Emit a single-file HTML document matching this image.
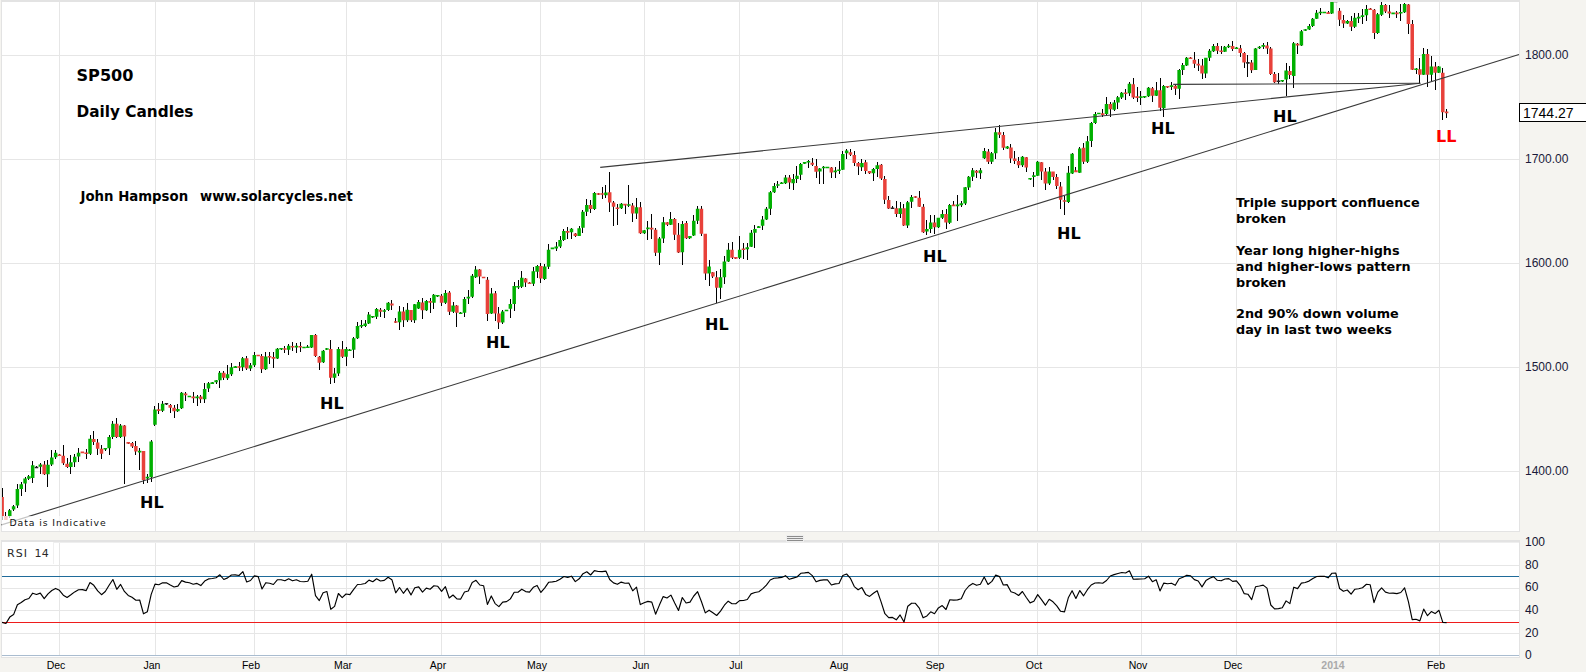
<!DOCTYPE html>
<html><head><meta charset="utf-8"><title>SP500 Daily Candles</title>
<style>html,body{margin:0;padding:0;}body{width:1586px;height:672px;position:relative;overflow:hidden;background:#f5f4f0;}svg{position:absolute;left:0;top:0;}</style>
</head><body>
<svg width="1586" height="672" viewBox="0 0 1586 672" shape-rendering="crispEdges">
<rect x="0" y="0" width="1586" height="672" fill="#f5f4f0"/>
<rect x="1" y="0" width="1519" height="532" fill="#e3e3e3"/>
<rect x="2" y="2" width="1517" height="529" fill="#ffffff"/>
<rect x="1" y="540" width="1519" height="118" fill="#e3e3e3"/>
<rect x="2" y="542" width="1517" height="115" fill="#ffffff"/>
<rect x="54" y="542" width="1465" height="1" fill="#eeeeee"/>
<path d="M59.5 2V531 M59.5 543V655 M155.5 2V531 M155.5 543V655 M254.5 2V531 M254.5 543V655 M346.5 2V531 M346.5 543V655 M441.5 2V531 M441.5 543V655 M540.5 2V531 M540.5 543V655 M644.5 2V531 M644.5 543V655 M739.5 2V531 M739.5 543V655 M842.5 2V531 M842.5 543V655 M938.5 2V531 M938.5 543V655 M1037.5 2V531 M1037.5 543V655 M1141.5 2V531 M1141.5 543V655 M1236.5 2V531 M1236.5 543V655 M1336.5 2V531 M1336.5 543V655 M1439.5 2V531 M1439.5 543V655 M2 55.5H1519 M2 159.5H1519 M2 263.5H1519 M2 367.5H1519 M2 471.5H1519 M2 565.5H1519 M2 588.5H1519 M2 610.5H1519 M2 633.5H1519" stroke="#e6e6e6" stroke-width="1" fill="none"/>
<path d="M2 576.5H1519" stroke="#1f6b9a" stroke-width="1"/>
<path d="M2 622.5H1519" stroke="#ee1c1c" stroke-width="1"/>
<path d="M2 655.5H1519" stroke="#a9bccf" stroke-width="1"/>
<defs><clipPath id="pc"><rect x="2" y="2" width="1517" height="529"/></clipPath></defs>
<g clip-path="url(#pc)">
<path d="M2.5 488V520 M5.5 512V520 M9.5 509V518 M13.5 505V511 M17.5 484V508 M21.5 482V496 M25.5 477V492 M28.5 475V480 M32.5 461V483 M36.5 466V468 M40.5 463V474 M44.5 461V475 M47.5 460V487 M51.5 450V466 M55.5 450V459 M59.5 454V456 M63.5 445V465 M67.5 458V468 M70.5 455V474 M74.5 454V467 M78.5 448V462 M82.5 452V453 M86.5 449V459 M90.5 435V455 M93.5 431V445 M97.5 439V455 M101.5 445V459 M105.5 448V451 M109.5 435V455 M112.5 421V439 M116.5 418V438 M120.5 424V438 M124.5 425V484 M128.5 442V444 M132.5 442V448 M135.5 441V455 M139.5 448V470 M143.5 451V484 M147.5 474V483 M151.5 440V482 M154.5 406V426 M158.5 403V414 M162.5 401V412 M166.5 403V405 M170.5 404V413 M174.5 405V418 M177.5 404V412 M181.5 392V409 M185.5 392V401 M189.5 396V397 M193.5 392V403 M197.5 395V406 M200.5 395V403 M204.5 383V403 M208.5 382V392 M212.5 382V384 M216.5 380V384 M219.5 371V388 M223.5 371V380 M227.5 365V380 M231.5 363V376 M235.5 366V368 M239.5 362V371 M242.5 357V371 M246.5 356V370 M250.5 363V371 M254.5 352V367 M258.5 355V356 M261.5 354V373 M265.5 352V370 M269.5 352V364 M273.5 352V368 M277.5 348V359 M281.5 348V350 M284.5 346V353 M288.5 344V355 M292.5 342V351 M296.5 343V353 M300.5 342V352 M304.5 347V348 M307.5 345V348 M311.5 335V348 M315.5 334V357 M319.5 356V370 M323.5 350V363 M326.5 348V350 M330.5 340V384 M334.5 368V383 M338.5 347V376 M342.5 341V358 M346.5 347V366 M349.5 349V351 M353.5 337V358 M357.5 322V339 M361.5 320V328 M365.5 320V327 M368.5 312V324 M372.5 316V318 M376.5 308V319 M380.5 308V317 M384.5 309V318 M388.5 302V311 M391.5 300V310 M395.5 318V323 M399.5 306V330 M403.5 307V327 M407.5 303V322 M411.5 310V322 M414.5 304V323 M418.5 300V309 M422.5 298V319 M426.5 300V311 M430.5 298V313 M433.5 294V309 M437.5 295V297 M441.5 294V306 M445.5 290V304 M449.5 291V315 M453.5 302V313 M456.5 305V327 M460.5 312V314 M464.5 297V317 M468.5 290V304 M472.5 274V298 M475.5 266V278 M479.5 269V284 M483.5 277V278 M487.5 277V321 M491.5 288V314 M495.5 291V321 M498.5 307V329 M502.5 310V324 M506.5 310V311 M510.5 299V318 M514.5 282V311 M518.5 280V289 M521.5 271V288 M525.5 278V287 M529.5 282V284 M533.5 267V286 M537.5 265V278 M540.5 263V283 M544.5 264V280 M548.5 244V269 M552.5 248V249 M556.5 242V251 M560.5 236V248 M563.5 229V241 M567.5 227V239 M571.5 228V239 M575.5 233V237 M579.5 226V236 M582.5 210V233 M586.5 199V216 M590.5 200V213 M594.5 192V210 M598.5 193V195 M602.5 187V199 M605.5 185V198 M609.5 172V212 M613.5 201V226 M617.5 204V225 M621.5 203V209 M625.5 204V214 M628.5 185V207 M632.5 203V222 M636.5 198V219 M640.5 202V234 M644.5 230V234 M647.5 221V240 M651.5 214V239 M655.5 228V256 M659.5 237V265 M663.5 217V243 M667.5 222V226 M670.5 212V225 M674.5 218V240 M678.5 223V253 M682.5 221V265 M686.5 221V239 M689.5 236V239 M693.5 215V236 M697.5 206V224 M701.5 206V236 M705.5 234V280 M709.5 260V286 M712.5 272V278 M716.5 271V303 M720.5 269V299 M724.5 256V284 M728.5 243V262 M732.5 242V259 M735.5 257V259 M739.5 236V259 M743.5 243V259 M747.5 243V260 M751.5 230V247 M754.5 225V248 M758.5 226V228 M762.5 216V230 M766.5 207V220 M770.5 191V215 M774.5 183V193 M777.5 181V188 M781.5 182V184 M785.5 175V184 M789.5 175V189 M793.5 174V190 M796.5 166V183 M800.5 163V180 M804.5 162V164 M808.5 160V168 M812.5 158V166 M816.5 159V178 M819.5 168V184 M823.5 166V184 M827.5 167V168 M831.5 167V178 M835.5 167V178 M839.5 161V174 M842.5 151V170 M846.5 149V159 M850.5 149V156 M854.5 151V166 M858.5 162V175 M861.5 159V171 M865.5 160V174 M869.5 171V174 M873.5 168V181 M877.5 162V177 M881.5 164V180 M884.5 176V204 M888.5 196V209 M892.5 206V209 M896.5 201V217 M900.5 202V218 M903.5 204V226 M907.5 201V228 M911.5 195V208 M915.5 196V198 M919.5 191V207 M923.5 204V233 M926.5 220V235 M930.5 215V233 M934.5 215V234 M938.5 218V228 M942.5 210V219 M946.5 209V229 M949.5 204V224 M953.5 201V206 M957.5 195V221 M961.5 201V207 M965.5 187V205 M968.5 176V190 M972.5 168V181 M976.5 170V178 M980.5 168V179 M984.5 148V159 M988.5 149V164 M991.5 152V164 M995.5 128V159 M999.5 125V138 M1003.5 132V150 M1007.5 146V149 M1010.5 144V163 M1014.5 151V164 M1018.5 157V168 M1022.5 156V167 M1026.5 157V172 M1030.5 178V180 M1033.5 172V187 M1037.5 161V176 M1041.5 162V180 M1045.5 168V190 M1049.5 167V185 M1053.5 172V180 M1056.5 174V189 M1060.5 182V209 M1064.5 196V215 M1068.5 166V203 M1072.5 153V174 M1075.5 167V172 M1079.5 147V173 M1083.5 143V164 M1087.5 136V163 M1091.5 122V147 M1095.5 112V124 M1098.5 113V114 M1102.5 109V117 M1106.5 97V115 M1110.5 102V117 M1114.5 100V111 M1117.5 96V109 M1121.5 92V99 M1125.5 89V100 M1129.5 82V96 M1133.5 78V99 M1137.5 87V102 M1140.5 91V105 M1144.5 96V98 M1148.5 87V97 M1152.5 87V102 M1156.5 82V96 M1160.5 78V111 M1163.5 85V117 M1167.5 86V88 M1171.5 82V90 M1175.5 84V95 M1179.5 69V99 M1182.5 63V75 M1186.5 57V66 M1190.5 57V59 M1194.5 52V68 M1198.5 59V71 M1202.5 59V79 M1205.5 58V78 M1209.5 49V61 M1213.5 44V52 M1217.5 43V54 M1221.5 46V54 M1224.5 46V52 M1228.5 44V48 M1232.5 41V51 M1236.5 47V49 M1240.5 45V57 M1244.5 52V68 M1247.5 55V77 M1251.5 60V73 M1255.5 48V70 M1259.5 46V49 M1263.5 43V49 M1267.5 42V54 M1270.5 47V75 M1274.5 72V83 M1278.5 73V84 M1282.5 80V82 M1286.5 63V96 M1289.5 66V79 M1293.5 42V88 M1297.5 43V54 M1301.5 30V46 M1305.5 29V31 M1309.5 24V30 M1312.5 18V27 M1316.5 10V19 M1320.5 8V15 M1324.5 12V13 M1328.5 11V14 M1331.5 1V14 M1335.5 1V2 M1339.5 8V26 M1343.5 15V28 M1347.5 20V24 M1351.5 16V31 M1354.5 13V28 M1358.5 13V23 M1362.5 9V24 M1366.5 5V21 M1370.5 8V10 M1374.5 9V39 M1377.5 13V34 M1381.5 2V16 M1385.5 4V13 M1389.5 5V18 M1393.5 13V14 M1396.5 11V18 M1400.5 4V21 M1404.5 3V13 M1408.5 4V34 M1412.5 20V70 M1416.5 68V74 M1419.5 58V83 M1423.5 48V75 M1427.5 49V87 M1431.5 56V81 M1435.5 62V90 M1438.5 66V73 M1442.5 68V120 M1446.5 109V118" stroke="#000" stroke-width="1" fill="none"/>
<g shape-rendering="geometricPrecision">
<path d="M8.01 510.30h3.5v6.00h-3.5z M11.83 506.30h3.5v3.30h-3.5z M15.65 488.90h3.5v16.70h-3.5z M19.48 484.20h3.5v4.70h-3.5z M23.30 478.60h3.5v4.90h-3.5z M27.12 476.20h3.5v2.60h-3.5z M30.94 465.20h3.5v12.70h-3.5z M38.58 464.50h3.5v2.30h-3.5z M46.23 464.80h3.5v9.40h-3.5z M50.05 457.40h3.5v7.10h-3.5z M53.87 452.79h3.5v4.46h-3.5z M69.15 462.16h3.5v4.76h-3.5z M72.98 456.80h3.5v5.35h-3.5z M76.80 452.79h3.5v3.72h-3.5z M88.26 438.66h3.5v15.17h-3.5z M103.55 447.97h3.5v1.60h-3.5z M107.37 436.88h3.5v11.45h-3.5z M111.19 423.79h3.5v13.09h-3.5z M118.83 425.58h3.5v11.30h-3.5z M137.94 450.81h3.5v1.60h-3.5z M145.58 476.79h3.5v1.79h-3.5z M149.40 441.61h3.5v35.71h-3.5z M153.22 409.46h3.5v15.18h-3.5z M160.87 403.75h3.5v6.96h-3.5z M176.15 408.93h3.5v2.32h-3.5z M179.97 392.86h3.5v15.36h-3.5z M187.62 395.63h3.5v1.60h-3.5z M195.26 396.43h3.5v1.79h-3.5z M202.90 388.93h3.5v10.36h-3.5z M206.72 383.21h3.5v5.36h-3.5z M210.55 382.14h3.5v1.79h-3.5z M214.37 380.36h3.5v1.79h-3.5z M218.19 372.86h3.5v7.50h-3.5z M225.83 374.29h3.5v3.93h-3.5z M229.65 367.14h3.5v7.14h-3.5z M233.47 366.34h3.5v1.60h-3.5z M241.12 358.21h3.5v8.93h-3.5z M248.76 365.36h3.5v3.04h-3.5z M252.58 355.00h3.5v10.36h-3.5z M264.05 356.43h3.5v12.86h-3.5z M275.51 348.75h3.5v9.82h-3.5z M279.33 347.95h3.5v1.60h-3.5z M286.97 345.71h3.5v3.93h-3.5z M294.62 345.71h3.5v1.79h-3.5z M302.26 346.70h3.5v1.60h-3.5z M306.08 346.43h3.5v1.60h-3.5z M309.90 335.00h3.5v12.50h-3.5z M321.37 350.71h3.5v11.43h-3.5z M325.19 348.13h3.5v1.60h-3.5z M332.83 373.39h3.5v4.46h-3.5z M336.65 348.93h3.5v24.46h-3.5z M344.29 348.93h3.5v7.86h-3.5z M348.12 349.38h3.5v1.60h-3.5z M351.94 338.21h3.5v11.43h-3.5z M355.76 326.07h3.5v12.14h-3.5z M359.58 325.00h3.5v1.60h-3.5z M363.40 323.39h3.5v2.68h-3.5z M367.22 314.46h3.5v8.93h-3.5z M371.04 315.99h3.5v1.60h-3.5z M374.87 309.11h3.5v7.68h-3.5z M382.51 310.27h3.5v1.60h-3.5z M386.33 302.86h3.5v7.14h-3.5z M397.79 311.43h3.5v10.71h-3.5z M405.44 309.64h3.5v10.71h-3.5z M413.08 304.29h3.5v16.07h-3.5z M416.90 301.96h3.5v6.61h-3.5z M424.54 301.07h3.5v9.29h-3.5z M432.19 294.82h3.5v8.04h-3.5z M436.01 294.91h3.5v1.60h-3.5z M443.65 293.04h3.5v9.82h-3.5z M451.29 305.54h3.5v6.25h-3.5z M458.94 312.41h3.5v1.60h-3.5z M462.76 298.93h3.5v13.93h-3.5z M466.58 296.79h3.5v1.79h-3.5z M470.40 275.71h3.5v21.07h-3.5z M474.22 269.46h3.5v7.68h-3.5z M489.51 293.57h3.5v20.00h-3.5z M500.97 311.43h3.5v11.07h-3.5z M504.79 309.74h3.5v1.60h-3.5z M508.62 303.93h3.5v4.82h-3.5z M512.44 286.07h3.5v17.86h-3.5z M516.26 285.90h3.5v1.60h-3.5z M520.08 277.86h3.5v8.93h-3.5z M531.54 271.25h3.5v12.50h-3.5z M535.37 265.89h3.5v5.89h-3.5z M543.01 266.43h3.5v12.50h-3.5z M546.83 249.82h3.5v16.96h-3.5z M550.65 247.59h3.5v1.60h-3.5z M554.47 246.61h3.5v1.79h-3.5z M558.29 240.00h3.5v6.61h-3.5z M562.11 231.07h3.5v8.93h-3.5z M569.76 228.75h3.5v3.57h-3.5z M577.40 228.21h3.5v7.68h-3.5z M581.22 211.79h3.5v16.07h-3.5z M585.04 205.00h3.5v6.79h-3.5z M592.69 193.04h3.5v16.07h-3.5z M604.15 192.50h3.5v2.86h-3.5z M619.44 203.75h3.5v4.46h-3.5z M627.08 204.20h3.5v1.60h-3.5z M634.72 207.32h3.5v6.25h-3.5z M642.36 230.18h3.5v3.04h-3.5z M646.19 227.59h3.5v1.60h-3.5z M657.65 238.57h3.5v14.29h-3.5z M661.47 222.14h3.5v16.43h-3.5z M669.11 218.93h3.5v5.89h-3.5z M680.58 223.93h3.5v28.21h-3.5z M688.22 236.07h3.5v2.14h-3.5z M692.04 220.71h3.5v14.82h-3.5z M695.86 208.75h3.5v11.96h-3.5z M707.33 266.43h3.5v7.14h-3.5z M718.79 277.14h3.5v10.71h-3.5z M722.61 261.43h3.5v15.71h-3.5z M726.44 249.82h3.5v11.61h-3.5z M737.90 249.82h3.5v8.04h-3.5z M745.54 247.14h3.5v2.14h-3.5z M749.36 232.86h3.5v13.93h-3.5z M753.18 228.93h3.5v3.93h-3.5z M757.01 226.34h3.5v1.60h-3.5z M760.83 219.46h3.5v6.25h-3.5z M764.65 208.75h3.5v10.71h-3.5z M768.47 192.14h3.5v16.61h-3.5z M772.29 186.07h3.5v6.07h-3.5z M776.11 184.20h3.5v1.60h-3.5z M779.93 182.41h3.5v1.60h-3.5z M783.76 177.50h3.5v5.71h-3.5z M791.40 178.93h3.5v4.29h-3.5z M795.22 175.71h3.5v3.21h-3.5z M799.04 164.11h3.5v10.71h-3.5z M802.86 162.06h3.5v1.60h-3.5z M806.68 160.90h3.5v1.60h-3.5z M818.15 168.39h3.5v3.04h-3.5z M821.97 166.70h3.5v1.60h-3.5z M825.79 166.70h3.5v1.60h-3.5z M833.43 170.54h3.5v1.60h-3.5z M837.26 169.38h3.5v1.60h-3.5z M841.08 154.11h3.5v15.54h-3.5z M844.90 150.54h3.5v2.68h-3.5z M860.18 163.04h3.5v4.11h-3.5z M871.65 168.93h3.5v4.29h-3.5z M875.47 165.36h3.5v3.57h-3.5z M898.40 208.21h3.5v5.71h-3.5z M906.04 202.32h3.5v23.21h-3.5z M909.86 196.96h3.5v4.82h-3.5z M925.15 229.11h3.5v2.32h-3.5z M928.97 222.50h3.5v6.61h-3.5z M936.61 217.86h3.5v9.46h-3.5z M940.43 213.93h3.5v3.93h-3.5z M948.08 205.00h3.5v17.86h-3.5z M955.72 204.56h3.5v1.60h-3.5z M959.54 203.21h3.5v2.14h-3.5z M963.36 187.14h3.5v16.43h-3.5z M967.18 176.79h3.5v10.71h-3.5z M971.00 170.18h3.5v6.61h-3.5z M978.65 170.18h3.5v3.04h-3.5z M982.47 151.07h3.5v7.14h-3.5z M990.11 153.21h3.5v8.57h-3.5z M993.93 132.32h3.5v20.89h-3.5z M1005.40 146.61h3.5v1.79h-3.5z M1020.68 156.79h3.5v8.57h-3.5z M1028.33 177.95h3.5v1.60h-3.5z M1032.15 175.18h3.5v1.79h-3.5z M1035.97 161.79h3.5v13.93h-3.5z M1047.43 171.61h3.5v11.96h-3.5z M1066.54 172.86h3.5v29.11h-3.5z M1070.36 153.75h3.5v19.64h-3.5z M1078.00 148.39h3.5v24.46h-3.5z M1085.65 141.25h3.5v20.54h-3.5z M1089.47 123.04h3.5v17.86h-3.5z M1093.29 114.11h3.5v8.93h-3.5z M1097.11 112.77h3.5v1.60h-3.5z M1104.75 103.93h3.5v10.18h-3.5z M1112.40 102.50h3.5v7.14h-3.5z M1116.22 97.14h3.5v5.36h-3.5z M1120.04 92.68h3.5v4.82h-3.5z M1127.68 83.75h3.5v9.46h-3.5z M1139.15 96.34h3.5v1.60h-3.5z M1142.97 95.90h3.5v1.60h-3.5z M1146.79 87.86h3.5v8.39h-3.5z M1154.43 90.36h3.5v5.36h-3.5z M1162.07 86.07h3.5v22.14h-3.5z M1169.72 85.36h3.5v1.60h-3.5z M1177.36 70.00h3.5v18.75h-3.5z M1181.18 65.00h3.5v5.00h-3.5z M1185.00 57.86h3.5v7.68h-3.5z M1204.11 57.86h3.5v15.71h-3.5z M1207.93 50.71h3.5v7.14h-3.5z M1211.75 45.89h3.5v5.36h-3.5z M1223.22 46.79h3.5v5.00h-3.5z M1227.04 45.72h3.5v1.60h-3.5z M1234.68 47.41h3.5v1.60h-3.5z M1253.79 48.57h3.5v21.43h-3.5z M1257.61 46.70h3.5v1.60h-3.5z M1261.43 45.00h3.5v1.79h-3.5z M1280.54 79.91h3.5v1.60h-3.5z M1284.36 70.54h3.5v8.93h-3.5z M1292.00 43.21h3.5v32.68h-3.5z M1299.65 31.25h3.5v14.29h-3.5z M1303.47 29.20h3.5v1.60h-3.5z M1307.29 25.89h3.5v3.57h-3.5z M1311.11 18.75h3.5v7.14h-3.5z M1314.93 12.86h3.5v5.89h-3.5z M1318.75 11.70h3.5v1.60h-3.5z M1322.57 11.70h3.5v1.60h-3.5z M1330.22 1.79h3.5v11.61h-3.5z M1345.50 21.07h3.5v2.50h-3.5z M1353.14 17.86h3.5v8.93h-3.5z M1356.97 16.79h3.5v1.60h-3.5z M1360.79 15.18h3.5v1.79h-3.5z M1364.61 8.93h3.5v6.25h-3.5z M1376.07 14.29h3.5v18.75h-3.5z M1379.89 5.00h3.5v9.64h-3.5z M1391.36 12.59h3.5v1.60h-3.5z M1399.00 11.97h3.5v1.60h-3.5z M1402.82 3.93h3.5v8.21h-3.5z M1414.29 68.49h3.5v1.60h-3.5z M1421.93 53.93h3.5v20.71h-3.5z M1429.57 66.43h3.5v8.21h-3.5z M1437.22 66.43h3.5v6.43h-3.5z" fill="#00b000"/>
<path d="M0.37 496.90h3.5v19.40h-3.5z M4.19 516.00h3.5v4.00h-3.5z M42.40 464.50h3.5v9.70h-3.5z M57.69 454.52h3.5v1.60h-3.5z M61.51 455.76h3.5v7.43h-3.5z M65.33 463.64h3.5v3.27h-3.5z M80.62 451.54h3.5v1.60h-3.5z M84.44 452.51h3.5v1.60h-3.5z M92.08 438.96h3.5v2.97h-3.5z M95.90 442.38h3.5v6.39h-3.5z M99.73 448.77h3.5v5.06h-3.5z M115.01 423.79h3.5v13.09h-3.5z M122.65 425.58h3.5v10.86h-3.5z M126.48 442.03h3.5v1.60h-3.5z M130.30 443.12h3.5v3.27h-3.5z M134.12 446.07h3.5v5.36h-3.5z M141.76 451.07h3.5v28.93h-3.5z M157.05 409.29h3.5v1.60h-3.5z M168.51 405.00h3.5v2.68h-3.5z M172.33 407.68h3.5v3.57h-3.5z M183.80 393.39h3.5v1.79h-3.5z M191.44 396.43h3.5v1.79h-3.5z M199.08 396.43h3.5v2.86h-3.5z M222.01 372.86h3.5v5.00h-3.5z M237.30 366.25h3.5v1.60h-3.5z M244.94 358.21h3.5v10.18h-3.5z M256.40 354.74h3.5v1.60h-3.5z M260.22 355.89h3.5v13.39h-3.5z M267.87 355.99h3.5v1.60h-3.5z M271.69 357.06h3.5v1.60h-3.5z M283.15 348.22h3.5v1.60h-3.5z M290.80 345.99h3.5v1.60h-3.5z M298.44 345.90h3.5v1.60h-3.5z M313.72 335.00h3.5v21.07h-3.5z M317.55 356.79h3.5v5.89h-3.5z M329.01 348.93h3.5v28.93h-3.5z M340.47 349.29h3.5v7.50h-3.5z M378.69 309.64h3.5v2.14h-3.5z M390.15 303.39h3.5v2.14h-3.5z M393.97 321.25h3.5v1.60h-3.5z M401.62 311.43h3.5v8.93h-3.5z M409.26 310.00h3.5v10.36h-3.5z M420.72 302.50h3.5v7.86h-3.5z M428.37 301.07h3.5v1.79h-3.5z M439.83 295.71h3.5v7.14h-3.5z M447.47 292.50h3.5v19.29h-3.5z M455.12 305.54h3.5v7.14h-3.5z M478.04 269.46h3.5v7.14h-3.5z M481.87 276.70h3.5v1.60h-3.5z M485.69 279.64h3.5v34.46h-3.5z M493.33 293.21h3.5v20.36h-3.5z M497.15 313.57h3.5v8.93h-3.5z M523.90 278.39h3.5v4.11h-3.5z M527.72 282.41h3.5v1.60h-3.5z M539.19 265.89h3.5v12.50h-3.5z M565.94 231.07h3.5v1.60h-3.5z M573.58 233.57h3.5v2.32h-3.5z M588.86 205.00h3.5v4.11h-3.5z M596.51 193.13h3.5v1.60h-3.5z M600.33 193.13h3.5v1.60h-3.5z M607.97 192.14h3.5v10.36h-3.5z M611.79 202.50h3.5v4.29h-3.5z M615.61 207.41h3.5v1.60h-3.5z M623.26 203.84h3.5v1.60h-3.5z M630.90 205.54h3.5v8.04h-3.5z M638.54 207.32h3.5v25.89h-3.5z M650.01 227.86h3.5v1.60h-3.5z M653.83 229.64h3.5v23.21h-3.5z M665.29 222.14h3.5v2.68h-3.5z M672.94 218.93h3.5v15.71h-3.5z M676.76 234.64h3.5v17.86h-3.5z M684.40 223.04h3.5v15.18h-3.5z M699.69 208.75h3.5v25.00h-3.5z M703.51 233.75h3.5v39.82h-3.5z M711.15 272.14h3.5v4.46h-3.5z M714.97 277.14h3.5v10.71h-3.5z M730.26 249.82h3.5v8.04h-3.5z M734.08 257.06h3.5v1.60h-3.5z M741.72 248.49h3.5v1.60h-3.5z M787.58 177.50h3.5v5.00h-3.5z M810.51 162.86h3.5v1.79h-3.5z M814.33 165.89h3.5v5.89h-3.5z M829.61 167.50h3.5v5.00h-3.5z M848.72 152.32h3.5v2.32h-3.5z M852.54 155.00h3.5v8.04h-3.5z M856.36 163.04h3.5v3.57h-3.5z M864.01 162.14h3.5v8.93h-3.5z M867.83 171.07h3.5v2.14h-3.5z M879.29 164.82h3.5v13.75h-3.5z M883.11 179.11h3.5v20.54h-3.5z M886.93 200.00h3.5v8.57h-3.5z M894.58 208.21h3.5v5.71h-3.5z M902.22 208.21h3.5v17.32h-3.5z M913.68 196.16h3.5v1.60h-3.5z M917.51 197.86h3.5v8.93h-3.5z M921.33 206.79h3.5v25.36h-3.5z M932.79 222.50h3.5v4.82h-3.5z M944.25 213.93h3.5v8.57h-3.5z M951.90 204.56h3.5v1.60h-3.5z M974.83 170.71h3.5v2.14h-3.5z M986.29 151.43h3.5v10.36h-3.5z M997.75 132.32h3.5v2.32h-3.5z M1001.58 135.00h3.5v12.86h-3.5z M1009.22 147.50h3.5v11.07h-3.5z M1013.04 158.57h3.5v2.32h-3.5z M1016.86 160.89h3.5v4.46h-3.5z M1024.50 157.32h3.5v10.18h-3.5z M1039.79 162.14h3.5v9.46h-3.5z M1043.61 171.61h3.5v11.96h-3.5z M1051.25 171.61h3.5v5.36h-3.5z M1055.08 176.96h3.5v8.93h-3.5z M1058.90 186.43h3.5v13.21h-3.5z M1062.72 200.27h3.5v1.60h-3.5z M1074.18 170.36h3.5v1.79h-3.5z M1081.83 147.86h3.5v13.93h-3.5z M1100.93 113.31h3.5v1.60h-3.5z M1108.58 103.93h3.5v5.36h-3.5z M1123.86 92.41h3.5v1.60h-3.5z M1131.50 84.29h3.5v13.21h-3.5z M1135.32 96.34h3.5v1.60h-3.5z M1150.61 88.21h3.5v7.50h-3.5z M1158.25 90.36h3.5v17.50h-3.5z M1165.90 85.90h3.5v1.60h-3.5z M1173.54 85.71h3.5v3.04h-3.5z M1188.82 57.41h3.5v1.60h-3.5z M1192.65 59.64h3.5v4.11h-3.5z M1196.47 63.75h3.5v1.79h-3.5z M1200.29 65.54h3.5v8.04h-3.5z M1215.57 45.89h3.5v4.82h-3.5z M1219.40 50.45h3.5v1.60h-3.5z M1230.86 45.89h3.5v3.04h-3.5z M1238.50 48.21h3.5v4.82h-3.5z M1242.32 53.04h3.5v9.46h-3.5z M1249.97 62.50h3.5v7.86h-3.5z M1265.25 45.54h3.5v3.04h-3.5z M1269.07 48.57h3.5v25.54h-3.5z M1272.90 74.11h3.5v8.04h-3.5z M1288.18 71.07h3.5v3.93h-3.5z M1295.82 43.75h3.5v1.79h-3.5z M1326.39 12.14h3.5v1.79h-3.5z M1337.86 10.71h3.5v8.93h-3.5z M1341.68 20.00h3.5v3.57h-3.5z M1349.32 21.07h3.5v5.71h-3.5z M1368.43 8.49h3.5v1.60h-3.5z M1372.25 9.82h3.5v23.21h-3.5z M1383.72 5.00h3.5v6.61h-3.5z M1387.54 11.61h3.5v1.79h-3.5z M1395.18 12.59h3.5v1.60h-3.5z M1406.64 4.46h3.5v19.64h-3.5z M1410.47 24.11h3.5v45.54h-3.5z M1418.11 69.29h3.5v5.36h-3.5z M1425.75 53.93h3.5v20.71h-3.5z M1433.39 66.43h3.5v6.43h-3.5z M1441.04 72.86h3.5v39.29h-3.5z M1444.86 111.61h3.5v1.60h-3.5z" fill="#e8413a"/>
<path d="M34.76 466.70h3.5v1.60h-3.5z M164.69 402.95h3.5v1.60h-3.5z M890.76 207.41h3.5v1.60h-3.5z M1246.15 62.06h3.5v1.60h-3.5z M1276.72 80.45h3.5v1.60h-3.5z M1334.04 0.63h3.5v1.60h-3.5z" fill="#222"/>
</g>
</g>
<g stroke="#3a3a3a" stroke-width="1.1" fill="none" shape-rendering="geometricPrecision">
<path d="M1.5 524.85L1519 54.42"/>
<path d="M600.2 167.4L1420.4 83.2"/>
<path d="M1173.2 84.4L1420.4 83.3"/>
</g>
<polyline points="2.1,622.4 5.9,623.5 9.8,617.1 13.6,614.6 17.4,604.8 21.2,602.5 25.0,599.7 28.9,598.5 32.7,593.2 36.5,594.5 40.3,593.1 44.2,598.7 48.0,593.9 51.8,590.5 55.6,588.4 59.4,590.3 63.3,595.2 67.1,597.5 70.9,594.8 74.7,591.9 78.5,589.7 82.4,589.6 86.2,590.6 90.0,582.5 93.8,585.3 97.7,590.9 101.5,594.7 105.3,591.5 109.1,585.3 112.9,579.5 116.8,589.3 120.6,584.4 124.4,591.4 128.2,595.4 132.0,597.3 135.9,600.2 139.7,600.0 143.5,613.8 147.3,611.8 151.2,594.4 155.0,584.1 158.8,584.7 162.6,582.8 166.4,582.8 170.3,585.0 174.1,587.0 177.9,586.1 181.7,580.6 185.5,582.1 189.4,582.8 193.2,584.2 197.0,583.4 200.8,585.6 204.7,581.1 208.5,578.9 212.3,578.5 216.1,577.8 219.9,574.8 223.8,579.5 227.6,577.9 231.4,575.0 235.2,574.9 239.0,575.5 242.9,571.6 246.7,582.0 250.5,580.5 254.3,575.9 258.2,576.6 262.0,589.0 265.8,582.7 269.6,583.3 273.4,584.5 277.3,579.8 281.1,579.7 284.9,580.8 288.7,578.8 292.5,580.8 296.4,579.8 300.2,581.5 304.0,581.7 307.8,581.2 311.7,574.2 315.5,595.7 319.3,600.6 323.1,592.7 326.9,591.5 330.8,609.3 334.6,606.4 338.4,593.5 342.2,597.6 346.0,594.0 349.9,594.6 353.7,589.3 357.5,584.5 361.3,584.2 365.2,583.5 369.0,580.1 372.8,581.7 376.6,578.8 380.4,581.0 384.3,580.4 388.1,577.3 391.9,579.7 395.7,592.8 399.5,587.5 403.4,593.3 407.2,588.3 411.0,594.9 414.8,587.8 418.7,586.9 422.5,592.1 426.3,588.1 430.1,589.2 433.9,585.8 437.8,586.3 441.6,591.3 445.4,586.7 449.2,598.0 453.0,595.0 456.9,598.9 460.7,599.1 464.5,592.0 468.3,591.0 472.2,582.4 476.0,580.3 479.8,585.0 483.6,585.7 487.4,604.5 491.3,595.9 495.1,603.6 498.9,606.6 502.7,602.1 506.5,601.6 510.4,598.9 514.2,592.2 518.0,592.2 521.8,589.2 525.7,591.6 529.5,592.1 533.3,587.3 537.1,585.4 540.9,592.4 544.8,587.8 548.6,582.3 552.4,581.9 556.2,581.3 560.0,579.2 563.9,576.5 567.7,577.4 571.5,576.2 575.3,581.6 579.2,578.8 583.0,573.7 586.8,571.8 590.6,575.0 594.4,570.6 598.3,571.5 602.1,571.6 605.9,571.1 609.7,579.5 613.5,582.9 617.4,584.3 621.2,582.1 625.0,583.2 628.8,583.1 632.7,590.8 636.5,587.2 640.3,604.6 644.1,602.7 647.9,601.4 651.8,602.1 655.6,614.2 659.4,605.1 663.2,596.6 667.0,598.0 670.9,595.1 674.7,603.1 678.5,610.5 682.3,597.5 686.1,603.0 690.0,602.1 693.8,596.0 697.6,591.7 701.4,601.5 705.3,612.9 709.1,610.2 712.9,612.8 716.7,615.5 720.5,611.1 724.4,605.2 728.2,601.2 732.0,603.7 735.8,603.8 739.6,600.6 743.5,600.5 747.3,599.5 751.1,593.9 754.9,592.5 758.8,591.7 762.6,588.9 766.4,585.1 770.2,580.0 774.0,578.3 777.9,577.9 781.7,577.4 785.5,575.7 789.3,579.3 793.1,578.1 797.0,577.0 800.8,573.3 804.6,572.9 808.4,572.4 812.3,575.6 816.1,581.8 819.9,580.4 823.7,579.9 827.5,579.9 831.4,585.0 835.2,583.9 839.0,583.5 842.8,575.5 846.6,574.0 850.5,578.4 854.3,586.6 858.1,589.8 861.9,587.6 865.8,594.6 869.6,596.4 873.4,593.3 877.2,590.8 881.0,601.6 884.9,613.7 888.7,617.6 892.5,617.4 896.3,619.8 900.1,614.9 904.0,622.1 907.8,606.2 911.6,603.2 915.4,603.3 919.3,608.1 923.1,617.8 926.9,615.9 930.7,611.8 934.5,613.7 938.4,607.9 942.2,605.6 946.0,609.5 949.8,599.8 953.6,600.1 957.5,599.9 961.3,598.8 965.1,590.5 968.9,586.0 972.8,583.4 976.6,585.3 980.4,584.2 984.2,577.1 988.0,584.5 991.9,581.4 995.7,575.1 999.5,576.6 1003.3,585.0 1007.1,584.6 1011.0,591.7 1014.8,593.0 1018.6,595.5 1022.4,591.5 1026.3,597.5 1030.1,602.9 1033.9,601.3 1037.7,594.6 1041.5,599.7 1045.4,605.2 1049.2,599.3 1053.0,601.8 1056.8,605.8 1060.6,611.3 1064.5,611.9 1068.3,597.8 1072.1,590.7 1075.9,598.4 1079.8,590.6 1083.6,595.8 1087.4,589.7 1091.2,585.0 1095.0,583.0 1098.9,582.8 1102.7,583.2 1106.5,580.5 1110.3,576.0 1114.1,574.6 1118.0,573.5 1121.8,572.5 1125.6,573.0 1129.4,570.8 1133.3,579.2 1137.1,579.1 1140.9,579.0 1144.7,578.8 1148.5,576.2 1152.4,581.7 1156.2,579.8 1160.0,590.9 1163.8,583.1 1167.6,583.8 1171.5,583.2 1175.3,585.3 1179.1,578.8 1182.9,577.3 1186.8,575.2 1190.6,575.8 1194.4,579.6 1198.2,581.0 1202.0,586.9 1205.9,580.6 1209.7,578.2 1213.5,576.6 1217.3,580.3 1221.1,580.8 1225.0,579.0 1228.8,578.6 1232.6,581.4 1236.4,580.9 1240.3,585.6 1244.1,593.6 1247.9,594.2 1251.7,599.7 1255.5,586.8 1259.4,586.0 1263.2,585.1 1267.0,588.1 1270.8,605.0 1274.6,608.9 1278.5,608.6 1282.3,607.8 1286.1,600.9 1289.9,603.6 1293.8,587.2 1297.6,588.6 1301.4,583.1 1305.2,582.5 1309.0,581.1 1312.9,578.5 1316.7,576.5 1320.5,576.3 1324.3,576.3 1328.1,577.8 1332.0,573.2 1335.8,573.1 1339.6,588.5 1343.4,591.3 1347.3,590.0 1351.1,594.2 1354.9,589.2 1358.7,588.8 1362.5,587.8 1366.4,584.3 1370.2,584.8 1374.0,602.6 1377.8,592.1 1381.6,587.9 1385.5,592.1 1389.3,593.2 1393.1,593.1 1396.9,593.6 1400.8,592.5 1404.6,587.8 1408.4,601.6 1412.2,619.6 1416.0,619.3 1419.9,620.9 1423.7,609.1 1427.5,615.7 1431.3,611.6 1435.1,613.6 1439.0,610.3 1442.8,622.4 1446.6,622.6" stroke="#000" stroke-width="1.15" fill="none" stroke-linejoin="round" shape-rendering="geometricPrecision"/>
<rect x="2" y="516" width="105" height="15" fill="#ffffff" fill-opacity="0.7"/>
<rect x="786" y="535" width="18" height="7" fill="#eeeeee"/>
<path d="M787 536.5H803M787 538.5H803M787 540.5H803" stroke="#8c8c8c" stroke-width="1"/>
<rect x="1519.5" y="103.5" width="70" height="18" fill="#ffffff" stroke="#000" stroke-width="1"/>
</svg>
<div style="position:absolute;left:76.5px;top:66px;font-family:'DejaVu Sans',sans-serif;font-weight:bold;white-space:nowrap;color:#000;font-size:16.1px;line-height:20px;">SP500</div>
<div style="position:absolute;left:76.5px;top:102px;font-family:'DejaVu Sans',sans-serif;font-weight:bold;white-space:nowrap;color:#000;font-size:15.3px;line-height:20px;">Daily Candles</div>
<div style="position:absolute;left:80.5px;top:188px;font-family:'DejaVu Sans',sans-serif;font-weight:bold;white-space:nowrap;color:#000;font-size:13.3px;line-height:18px;">John Hampson</div>
<div style="position:absolute;left:200px;top:188px;font-family:'DejaVu Sans',sans-serif;font-weight:bold;white-space:nowrap;color:#000;font-size:13.2px;line-height:18px;">www.solarcycles.net</div>
<div style="position:absolute;left:1236px;top:195px;font-family:'DejaVu Sans',sans-serif;font-weight:bold;white-space:nowrap;color:#000;font-size:12.8px;line-height:15.9px;">Triple support confluence<br>broken<br><br>Year long higher-highs<br>and higher-lows pattern<br>broken<br><br>2nd 90% down volume<br>day in last two weeks</div>
<div style="position:absolute;left:140px;top:494px;font-family:'DejaVu Sans',sans-serif;font-weight:bold;white-space:nowrap;color:#000;font-size:16px;line-height:18px;">HL</div>
<div style="position:absolute;left:320px;top:395px;font-family:'DejaVu Sans',sans-serif;font-weight:bold;white-space:nowrap;color:#000;font-size:16px;line-height:18px;">HL</div>
<div style="position:absolute;left:486px;top:334px;font-family:'DejaVu Sans',sans-serif;font-weight:bold;white-space:nowrap;color:#000;font-size:16px;line-height:18px;">HL</div>
<div style="position:absolute;left:705px;top:316px;font-family:'DejaVu Sans',sans-serif;font-weight:bold;white-space:nowrap;color:#000;font-size:16px;line-height:18px;">HL</div>
<div style="position:absolute;left:923px;top:248px;font-family:'DejaVu Sans',sans-serif;font-weight:bold;white-space:nowrap;color:#000;font-size:16px;line-height:18px;">HL</div>
<div style="position:absolute;left:1057px;top:225px;font-family:'DejaVu Sans',sans-serif;font-weight:bold;white-space:nowrap;color:#000;font-size:16px;line-height:18px;">HL</div>
<div style="position:absolute;left:1151px;top:120px;font-family:'DejaVu Sans',sans-serif;font-weight:bold;white-space:nowrap;color:#000;font-size:16px;line-height:18px;">HL</div>
<div style="position:absolute;left:1273px;top:108px;font-family:'DejaVu Sans',sans-serif;font-weight:bold;white-space:nowrap;color:#000;font-size:16px;line-height:18px;">HL</div>
<div style="position:absolute;left:1436px;top:127.5px;font-family:'DejaVu Sans',sans-serif;font-weight:bold;white-space:nowrap;color:#000;font-size:16px;line-height:18px;color:#ff0000;">LL</div>
<div style="position:absolute;left:1525px;top:47.9px;font-family:'Liberation Sans',sans-serif;white-space:nowrap;color:#1a1a3a;font-size:12px;line-height:14px;">1800.00</div>
<div style="position:absolute;left:1525px;top:151.9px;font-family:'Liberation Sans',sans-serif;white-space:nowrap;color:#1a1a3a;font-size:12px;line-height:14px;">1700.00</div>
<div style="position:absolute;left:1525px;top:255.8px;font-family:'Liberation Sans',sans-serif;white-space:nowrap;color:#1a1a3a;font-size:12px;line-height:14px;">1600.00</div>
<div style="position:absolute;left:1525px;top:359.8px;font-family:'Liberation Sans',sans-serif;white-space:nowrap;color:#1a1a3a;font-size:12px;line-height:14px;">1500.00</div>
<div style="position:absolute;left:1525px;top:463.75px;font-family:'Liberation Sans',sans-serif;white-space:nowrap;color:#1a1a3a;font-size:12px;line-height:14px;">1400.00</div>
<div style="position:absolute;left:1523px;top:104.5px;font-family:'Liberation Sans',sans-serif;white-space:nowrap;color:#1a1a3a;font-size:14px;line-height:16px;color:#000;">1744.27</div>
<div style="position:absolute;left:1525px;top:534.8px;font-family:'Liberation Sans',sans-serif;white-space:nowrap;color:#1a1a3a;font-size:12px;line-height:14px;color:#141432;">100</div>
<div style="position:absolute;left:1525px;top:557.5px;font-family:'Liberation Sans',sans-serif;white-space:nowrap;color:#1a1a3a;font-size:12px;line-height:14px;color:#141432;">80</div>
<div style="position:absolute;left:1525px;top:580.3px;font-family:'Liberation Sans',sans-serif;white-space:nowrap;color:#1a1a3a;font-size:12px;line-height:14px;color:#141432;">60</div>
<div style="position:absolute;left:1525px;top:603px;font-family:'Liberation Sans',sans-serif;white-space:nowrap;color:#1a1a3a;font-size:12px;line-height:14px;color:#141432;">40</div>
<div style="position:absolute;left:1525px;top:625.8px;font-family:'Liberation Sans',sans-serif;white-space:nowrap;color:#1a1a3a;font-size:12px;line-height:14px;color:#141432;">20</div>
<div style="position:absolute;left:1525px;top:647.6px;font-family:'Liberation Sans',sans-serif;white-space:nowrap;color:#1a1a3a;font-size:12px;line-height:14px;color:#141432;">0</div>
<div style="position:absolute;left:26px;width:60px;text-align:center;top:658.5px;font-family:'Liberation Sans',sans-serif;white-space:nowrap;color:#1a1a3a;font-size:10.5px;line-height:12px;color:#000;">Dec</div>
<div style="position:absolute;left:122px;width:60px;text-align:center;top:658.5px;font-family:'Liberation Sans',sans-serif;white-space:nowrap;color:#1a1a3a;font-size:10.5px;line-height:12px;color:#000;">Jan</div>
<div style="position:absolute;left:221px;width:60px;text-align:center;top:658.5px;font-family:'Liberation Sans',sans-serif;white-space:nowrap;color:#1a1a3a;font-size:10.5px;line-height:12px;color:#000;">Feb</div>
<div style="position:absolute;left:313px;width:60px;text-align:center;top:658.5px;font-family:'Liberation Sans',sans-serif;white-space:nowrap;color:#1a1a3a;font-size:10.5px;line-height:12px;color:#000;">Mar</div>
<div style="position:absolute;left:408px;width:60px;text-align:center;top:658.5px;font-family:'Liberation Sans',sans-serif;white-space:nowrap;color:#1a1a3a;font-size:10.5px;line-height:12px;color:#000;">Apr</div>
<div style="position:absolute;left:507px;width:60px;text-align:center;top:658.5px;font-family:'Liberation Sans',sans-serif;white-space:nowrap;color:#1a1a3a;font-size:10.5px;line-height:12px;color:#000;">May</div>
<div style="position:absolute;left:611px;width:60px;text-align:center;top:658.5px;font-family:'Liberation Sans',sans-serif;white-space:nowrap;color:#1a1a3a;font-size:10.5px;line-height:12px;color:#000;">Jun</div>
<div style="position:absolute;left:706px;width:60px;text-align:center;top:658.5px;font-family:'Liberation Sans',sans-serif;white-space:nowrap;color:#1a1a3a;font-size:10.5px;line-height:12px;color:#000;">Jul</div>
<div style="position:absolute;left:809px;width:60px;text-align:center;top:658.5px;font-family:'Liberation Sans',sans-serif;white-space:nowrap;color:#1a1a3a;font-size:10.5px;line-height:12px;color:#000;">Aug</div>
<div style="position:absolute;left:905px;width:60px;text-align:center;top:658.5px;font-family:'Liberation Sans',sans-serif;white-space:nowrap;color:#1a1a3a;font-size:10.5px;line-height:12px;color:#000;">Sep</div>
<div style="position:absolute;left:1004px;width:60px;text-align:center;top:658.5px;font-family:'Liberation Sans',sans-serif;white-space:nowrap;color:#1a1a3a;font-size:10.5px;line-height:12px;color:#000;">Oct</div>
<div style="position:absolute;left:1108px;width:60px;text-align:center;top:658.5px;font-family:'Liberation Sans',sans-serif;white-space:nowrap;color:#1a1a3a;font-size:10.5px;line-height:12px;color:#000;">Nov</div>
<div style="position:absolute;left:1203px;width:60px;text-align:center;top:658.5px;font-family:'Liberation Sans',sans-serif;white-space:nowrap;color:#1a1a3a;font-size:10.5px;line-height:12px;color:#000;">Dec</div>
<div style="position:absolute;left:1303px;width:60px;text-align:center;top:658.5px;font-family:'Liberation Sans',sans-serif;white-space:nowrap;color:#1a1a3a;font-size:10.5px;line-height:12px;color:#aaaaaa;font-weight:bold;">2014</div>
<div style="position:absolute;left:1406px;width:60px;text-align:center;top:658.5px;font-family:'Liberation Sans',sans-serif;white-space:nowrap;color:#1a1a3a;font-size:10.5px;line-height:12px;color:#000;">Feb</div>
<div style="position:absolute;left:9.5px;top:516px;font-family:'DejaVu Sans',sans-serif;font-size:9.3px;letter-spacing:0.9px;line-height:14px;color:#111;white-space:nowrap;">Data is Indicative</div>
<div style="position:absolute;left:2px;top:542px;width:51px;height:22px;background:#ffffff;border-right:1px solid #f0f0f0;"></div>
<div style="position:absolute;left:7px;top:547px;font-family:'DejaVu Sans',sans-serif;font-size:11px;line-height:14px;color:#2a2a2a;letter-spacing:1px;white-space:nowrap;">RSI</div>
<div style="position:absolute;left:34.5px;top:547px;font-family:'DejaVu Sans',sans-serif;font-size:11px;line-height:14px;color:#2a2a2a;letter-spacing:0.3px;white-space:nowrap;">14</div>
</body></html>
